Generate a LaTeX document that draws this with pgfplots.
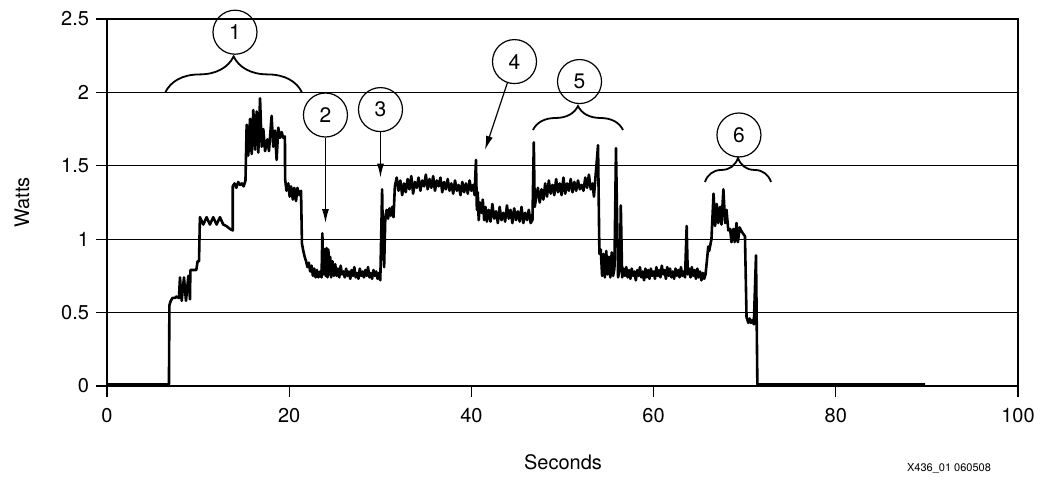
\documentclass[border=0pt]{standalone}
\usepackage{fontspec}
\setmainfont{TeX Gyre Heros}
\usepackage{pgfplots}
\pgfplotsset{compat=1.18}
\usetikzlibrary{decorations.pathreplacing,arrows.meta}

\begin{document}
\begin{tikzpicture}
\begin{axis}[
    scale only axis,
    width=455.5pt, height=183.5pt,
    xmin=0, xmax=100, ymin=0, ymax=2.5,
    xtick={0,20,40,60,80,100},
    ytick={0,0.5,1,1.5,2,2.5},
    tick align=outside, xtick pos=bottom, ytick pos=left,
    major tick length=5.5pt,
    ymajorgrids, grid style={black, line width=0.5pt},
    axis line style={line width=1.1pt},
    tick style={black, line width=0.6pt},
    tick label style={font=\fontsize{10}{11}\selectfont},
    xticklabel style={yshift=-2pt},
    /pgf/number format/assume math mode=true,
    clip=false,
]
% power trace
\addplot[black, line width=1.3pt, line join=round] coordinates {
 (0,0.01) (6.8,0.01) (6.85,0.55) (7.0,0.58) (7.2,0.60) (7.5,0.60) (7.6,0.61)
 (7.9,0.60) (8.01,0.74) (8.2,0.58) (8.45,0.74) (8.67,0.58) (8.93,0.75) (9.11,0.59)
 (9.15,0.79) (9.8,0.79) (9.95,0.85) (10.1,0.85) (10.2,1.15)
 (10.57,1.10) (10.93,1.15) (11.3,1.10) (11.66,1.15) (12.03,1.10) (12.4,1.15)
 (12.76,1.10) (13.1,1.09) (13.5,1.07) (13.8,1.06)
 (13.8,1.36) (14.0,1.38) (14.2,1.35) (14.4,1.39) (14.6,1.37) (14.8,1.38) (15.0,1.36) (15.2,1.40)
 (15.33,1.78) (15.51,1.57) (15.70,1.82) (15.88,1.58) (16.06,1.88) (16.25,1.61) (16.43,1.87)
 (16.61,1.59) (16.80,1.96) (16.98,1.63) (17.16,1.75) (17.35,1.60) (17.60,1.68) (17.78,1.60)
 (18.07,1.84) (18.25,1.63) (18.44,1.74) (18.62,1.54) (18.80,1.76) (18.99,1.69) (19.17,1.73)
 (19.35,1.69) (19.53,1.70)
 (19.55,1.41) (19.7,1.33) (19.9,1.38) (20.05,1.29) (20.2,1.36) (20.4,1.27) (20.55,1.35)
 (20.75,1.26) (20.9,1.35) (21.1,1.30) (21.3,1.33) (21.4,0.97)
 (21.55,0.92) (21.7,0.88) (21.85,0.85) (22.0,0.81) (22.15,0.84) (22.3,0.78) (22.45,0.82)
 (22.6,0.75) (22.75,0.80) (22.9,0.74) (23.05,0.79) (23.2,0.74) (23.4,0.78) (23.55,0.74)
 (23.64,1.04) (23.75,0.76) (23.9,0.93) (24.0,0.75) (24.1,0.94) (24.2,0.74) (24.3,0.93)
 (24.4,0.76) (24.5,0.88) (24.6,0.74) (24.75,0.85) (24.9,0.75) (25.05,0.83) (25.2,0.75)
 (25.35,0.80) (25.5,0.74) (25.65,0.82) (25.8,0.76) (25.95,0.78) (26.1,0.74) (26.25,0.80)
 (26.4,0.75) (26.55,0.78) (26.7,0.73) (26.85,0.79) (27.0,0.75) (27.15,0.81) (27.3,0.74)
 (27.45,0.77) (27.6,0.73) (27.75,0.80) (27.9,0.75) (28.05,0.78) (28.2,0.74) (28.35,0.79)
 (28.5,0.75) (28.65,0.81) (28.8,0.74) (28.95,0.77) (29.1,0.73) (29.25,0.79) (29.4,0.75)
 (29.55,0.78) (29.7,0.73) (29.85,0.77) (30.0,0.72)
 (30.2,1.34) (30.3,0.95) (30.42,0.81) (30.55,1.15) (30.7,1.20) (30.85,1.14) (31.0,1.21)
 (31.15,1.16) (31.3,1.22) (31.45,1.15) (31.6,1.36)
 (31.8,1.42) (32.0,1.33) (32.2,1.40) (32.4,1.30) (32.6,1.38) (32.8,1.32) (33.0,1.41)
 (33.2,1.34) (33.4,1.43) (33.6,1.31) (33.8,1.39) (34.0,1.35) (34.2,1.42) (34.4,1.33)
 (34.6,1.40) (34.8,1.36) (35.0,1.44) (35.2,1.34) (35.4,1.41) (35.6,1.35) (35.8,1.43)
 (36.0,1.33) (36.2,1.40) (36.4,1.36) (36.6,1.42) (36.8,1.32) (37.0,1.39) (37.2,1.34)
 (37.4,1.41) (37.6,1.33) (37.8,1.38) (38.0,1.31) (38.2,1.40) (38.4,1.33) (38.6,1.37)
 (38.8,1.30) (39.0,1.39) (39.2,1.32) (39.4,1.38) (39.6,1.31) (39.8,1.40) (40.0,1.33)
 (40.2,1.37) (40.35,1.30)
 (40.5,1.54) (40.6,1.20) (40.7,1.32) (40.8,1.13) (40.95,1.25) (41.1,1.18) (41.25,1.27)
 (41.4,1.13) (41.55,1.22) (41.7,1.12) (41.9,1.20) (42.1,1.12) (42.3,1.24) (42.5,1.14)
 (42.7,1.19) (42.9,1.11) (43.1,1.22) (43.3,1.13) (43.5,1.18) (43.7,1.12) (43.9,1.23)
 (44.1,1.14) (44.3,1.20) (44.5,1.11) (44.7,1.21) (44.9,1.13) (45.1,1.19) (45.3,1.12)
 (45.5,1.22) (45.7,1.11) (45.9,1.18) (46.1,1.13) (46.3,1.20) (46.5,1.11) (46.7,1.13)
 (46.85,1.66) (46.95,1.22)
 (47.1,1.28) (47.3,1.35) (47.5,1.25) (47.7,1.34) (47.9,1.27) (48.1,1.38) (48.3,1.29)
 (48.5,1.40) (48.7,1.31) (48.9,1.37) (49.1,1.30) (49.3,1.41) (49.5,1.32) (49.7,1.38)
 (49.9,1.30) (50.1,1.42) (50.3,1.31) (50.5,1.38) (50.7,1.33) (50.9,1.41) (51.1,1.32)
 (51.3,1.39) (51.5,1.33) (51.7,1.40) (51.9,1.34) (52.1,1.37) (52.3,1.33) (52.5,1.42)
 (52.7,1.35) (52.9,1.44) (53.1,1.34) (53.3,1.38) (53.45,1.29)
 (53.9,1.64) (54.05,0.90)
 (54.2,0.93) (54.35,0.75) (54.5,0.90) (54.65,0.74) (54.8,0.92) (54.95,0.76) (55.1,0.88)
 (55.25,0.74) (55.4,0.91) (55.55,0.75) (55.7,0.80) (55.87,1.62) (56.1,0.74) (56.3,0.80)
 (56.4,1.23) (56.55,0.74) (56.7,0.80)
 (56.85,0.75) (57.0,0.81) (57.15,0.74) (57.3,0.79) (57.45,0.73) (57.6,0.80) (57.75,0.75)
 (57.9,0.78) (58.05,0.72) (58.2,0.79) (58.35,0.75) (58.5,0.81) (58.65,0.74) (58.8,0.78)
 (58.95,0.72) (59.1,0.80) (59.25,0.74) (59.4,0.79) (59.55,0.73) (59.7,0.80) (59.85,0.75)
 (60.0,0.78) (60.15,0.73) (60.3,0.81) (60.45,0.75) (60.6,0.79) (60.75,0.74) (60.9,0.82)
 (61.05,0.76) (61.2,0.79) (61.35,0.73) (61.5,0.81) (61.65,0.75) (61.8,0.80) (61.95,0.74)
 (62.1,0.78) (62.25,0.73) (62.4,0.80) (62.55,0.75) (62.7,0.79) (62.85,0.74) (63.0,0.81)
 (63.15,0.75) (63.3,0.78) (63.45,0.74)
 (63.63,1.09) (63.75,0.76) (63.9,0.80) (64.05,0.74) (64.2,0.81) (64.35,0.75) (64.5,0.79)
 (64.65,0.73) (64.8,0.80) (64.95,0.74) (65.1,0.78) (65.25,0.72) (65.4,0.77) (65.55,0.73)
 (65.7,0.76) (65.83,0.84) (66.0,0.95) (66.1,0.92) (66.35,1.00)
 (66.58,1.31) (66.75,1.09) (66.94,1.24) (67.1,1.11) (67.3,1.22) (67.45,1.10) (67.66,1.34)
 (67.85,1.11) (68.0,1.20) (68.2,1.06) (68.4,1.07) (68.55,0.98) (68.75,1.07) (68.9,0.98)
 (69.1,1.11) (69.25,0.98) (69.45,1.08) (69.6,1.06) (69.8,1.04) (70.03,1.02)
 (70.2,0.47) (70.4,0.43) (70.55,0.46) (70.7,0.43) (70.9,0.45) (71.0,0.42)
 (71.24,0.89) (71.39,0.01) (89.8,0.01)
};
% callouts
\begin{scope}[every node/.style={draw, circle, minimum size=22pt, inner sep=0pt,
    line width=0.6pt, font=\fontsize{10.5}{12}\selectfont}]
\node (c1) at (axis cs:14.05,2.41) {1};
\node (c2) at (axis cs:23.98,1.846) {2};
\node (c3) at (axis cs:30.02,1.883) {3};
\node (c4) at (axis cs:44.73,2.21) {4};
\node (c5) at (axis cs:51.87,2.074) {5};
\node (c6) at (axis cs:69.37,1.71) {6};
\end{scope}
\draw[decorate, decoration={brace, amplitude=18pt}, line width=0.9pt]
    (axis cs:6.4,2.0) -- (axis cs:21.4,2.0);
\draw[decorate, decoration={brace, amplitude=12pt}, line width=0.9pt]
    (axis cs:46.76,1.744) -- (axis cs:56.64,1.744);
\draw[decorate, decoration={brace, amplitude=12pt}, line width=0.9pt]
    (axis cs:65.64,1.39) -- (axis cs:72.89,1.39);
\draw[-{Latex[length=7pt,width=3.5pt]}, line width=0.6pt] (c2) -- (axis cs:23.98,1.11);
\draw[-{Latex[length=7pt,width=3.5pt]}, line width=0.6pt] (c3) -- (axis cs:30.02,1.42);
\draw[-{Latex[length=7pt,width=3.5pt]}, line width=0.6pt] (c4) -- (axis cs:41.49,1.608);
\end{axis}
\node[font=\fontsize{10}{11}\selectfont] at (228pt,-38pt) {Seconds};
\node[font=\fontsize{10}{11}\selectfont, rotate=90] at (-42.5pt,91.75pt) {Watts};
\node[font=\fontsize{5.5}{6}\selectfont] at (421pt,-41pt) {X436\_01 060508};
\pgfresetboundingbox
\path (-53.5pt,-46.5pt) rectangle (474pt,193pt);
\end{tikzpicture}
\end{document}
